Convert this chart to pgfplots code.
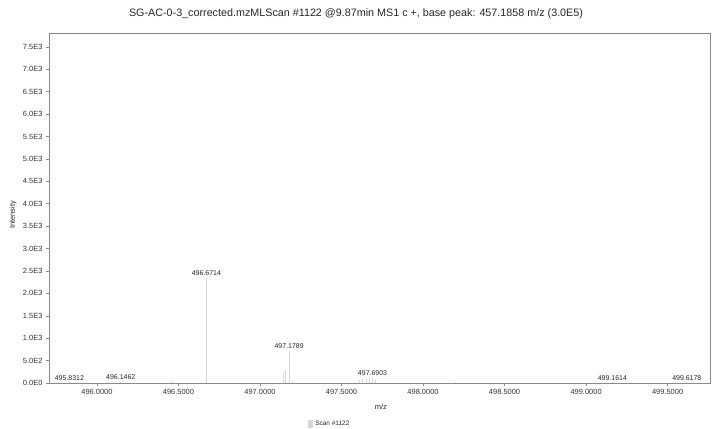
\documentclass[border=0pt]{standalone}
\usepackage{pgfplots}
\pgfplotsset{compat=1.18}
\usepackage{fontspec}
\setmainfont{Liberation Sans}
\definecolor{peak}{HTML}{D6D6D6}
\definecolor{axgray}{HTML}{8A8A8A}
\begin{document}
\begin{tikzpicture}
\useasboundingbox (-49bp,-46bp) rectangle (664bp,383bp);
\begin{axis}[
  at={(0,0)}, anchor=south west,
  scale only axis, width=661bp, height=350bp,
  xmin=495.706, xmax=499.76, ymin=0, ymax=7810,
  axis line style={axgray, line width=0.6pt},
  xtick={496,496.5,497,497.5,498,498.5,499,499.5},
  xticklabels={496.0000,496.5000,497.0000,497.5000,498.0000,498.5000,499.0000,499.5000},
  ytick={0,500,1000,1500,2000,2500,3000,3500,4000,4500,5000,5500,6000,6500,7000,7500},
  yticklabels={0.0E0,5.0E2,1.0E3,1.5E3,2.0E3,2.5E3,3.0E3,3.5E3,4.0E3,4.5E3,5.0E3,5.5E3,6.0E3,6.5E3,7.0E3,7.5E3},
  tick align=outside, major tick length=3bp,
  xtick pos=left, ytick pos=left,
  tick style={axgray, line width=0.5pt},
  tick label style={font=\fontsize{7.5}{8}\selectfont, text=black!80},
  title={SG-AC-0-3\_corrected.mzMLScan \#1122 @9.87min MS1 c +, base peak: 457.1858 m/z (3.0E5)},
  title style={at={(rel axis cs:0.4645,1)}, anchor=center, yshift=13bp, font=\fontsize{10.8}{12}\selectfont, text=black!85},
  xlabel={m/z},
  xlabel style={at={(rel axis cs:0.502,0)}, anchor=center, yshift=-24bp, font=\fontsize{7.5}{8}\selectfont, text=black!85},
  ylabel={Intensity},
  ylabel style={at={(ticklabel cs:0.48)}, anchor=south, font=\fontsize{7.5}{8}\selectfont, text=black!85, inner sep=3bp},
  legend style={at={(rel axis cs:0.425,0)}, anchor=center, yshift=-41bp, draw=none, fill=none, font=\fontsize{6.5}{7}\selectfont, text=black!85, inner sep=0pt},
  legend image code/.code={\fill[peak] (0bp,-3bp) rectangle (4bp,4bp);},
]
\addplot[ycomb, draw=peak, line width=0.9pt, mark=none] coordinates {
  (495.8312,20) (496.1462,30) (496.46,50) (496.6714,2350)
  (497.145,240) (497.158,290) (497.1789,720) (497.20,50)
  (497.61,60) (497.63,80) (497.655,90) (497.672,110) (497.6903,120) (497.71,60)
  (498.20,25) (499.1614,25) (499.6178,25)
};
\addlegendentry{Scan \#1122}
\addplot[draw=none, mark=none, forget plot, nodes near coords, point meta=explicit symbolic,
  nodes near coords style={font=\fontsize{7}{8}\selectfont, text=black!85, anchor=south, inner sep=1.5bp}]
  table[meta=label] {
x y label
495.8312 20 495.8312
496.1462 30 496.1462
496.6714 2350 496.6714
497.1789 720 497.1789
497.6903 120 497.6903
499.1614 25 499.1614
499.6178 25 499.6178
};
\end{axis}
\end{tikzpicture}
\end{document}
